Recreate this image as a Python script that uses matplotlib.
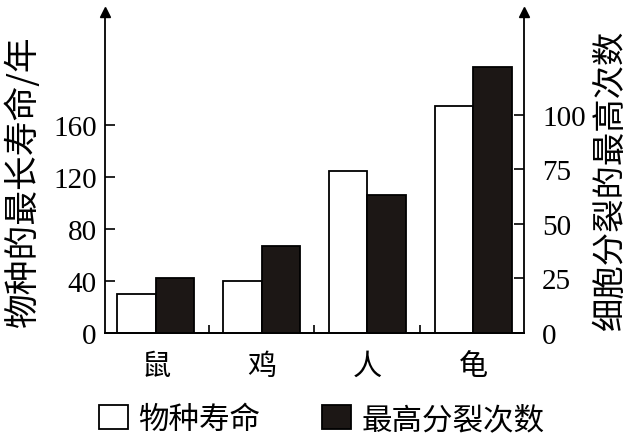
import numpy as np
import matplotlib
matplotlib.use("Agg")
import matplotlib.pyplot as plt
from matplotlib.patches import Patch

# data
categories = ["鼠", "鸡", "人", "龟"]
lifespan = [30, 40, 125, 175]        # 物种寿命 (left axis, 年)
divisions = [25, 40, 63, 122]        # 最高分裂次数 (right axis)
left_ticks = [0, 40, 80, 120, 160]
right_ticks = [0, 25, 50, 75, 100]

cjk = ["Noto Sans CJK SC", "DejaVu Sans"]
num = ["Liberation Serif", "DejaVu Serif"]

fig = plt.figure(figsize=(6.43, 4.35), dpi=100)
ax = fig.add_axes([0.1633, 0.2322, 0.6516, 0.7379])
ax2 = ax.twinx()

x = np.arange(len(categories))
w = 0.365
ax.bar(x - w / 2, lifespan, w, facecolor="white", edgecolor="black", linewidth=1.3, zorder=3)
ax2.bar(x + w / 2, divisions, w, facecolor="#1c1715", edgecolor="black", linewidth=1.3, zorder=3)

ax.set_xlim(-0.48, 3.48)
ax.set_ylim(0, 247)
ax2.set_ylim(0, 147)

for a in (ax, ax2):
    a.spines["top"].set_visible(False)
    for s in a.spines.values():
        s.set_linewidth(1.3)
ax.spines["right"].set_visible(False)
ax2.spines["left"].set_visible(False)

ax.set_yticks(left_ticks)
ax.set_yticklabels([str(t) for t in left_ticks], family=num, fontsize=21)
ax2.set_yticks(right_ticks)
ax2.set_yticklabels([str(t) for t in right_ticks], family=num, fontsize=21)
ax.tick_params(axis="y", direction="in", length=7, width=1.2, pad=6)
ax2.tick_params(axis="y", direction="in", length=7, width=1.2, pad=13)

ax.set_xticks(x)
ax.set_xticklabels(categories, family=cjk, fontsize=21)
ax.tick_params(axis="x", length=0, pad=13)
ax.set_xticks([0.5, 1.5, 2.5], minor=True)
ax.tick_params(axis="x", which="minor", direction="in", length=6, width=1.2)

ax.set_ylabel("物种的最长寿命/年", family=cjk, fontsize=25, va="center")
ax.yaxis.set_label_coords(-0.196, 0.475)
ax2.set_ylabel("细胞分裂的最高次数", family=cjk, fontsize=24, va="center")
ax2.yaxis.set_label_coords(1.205, 0.48)

# arrow heads on the vertical axes
ax.plot(0, 1, marker="^", markersize=7, color="black", transform=ax.transAxes, clip_on=False)
ax.plot(1, 1, marker="^", markersize=7, color="black", transform=ax.transAxes, clip_on=False)

handles = [Patch(facecolor="white", edgecolor="black", linewidth=1.3),
           Patch(facecolor="#1c1715", edgecolor="black", linewidth=1.3)]
fig.legend(handles, ["物种寿命", "最高分裂次数"], loc="lower center",
           bbox_to_anchor=(0.5, -0.065), ncol=2, frameon=False,
           prop={"family": cjk, "size": 22}, handlelength=0.95, handleheight=0.8,
           handletextpad=0.35, columnspacing=2.0)

fig.savefig("out.png", dpi=100)
